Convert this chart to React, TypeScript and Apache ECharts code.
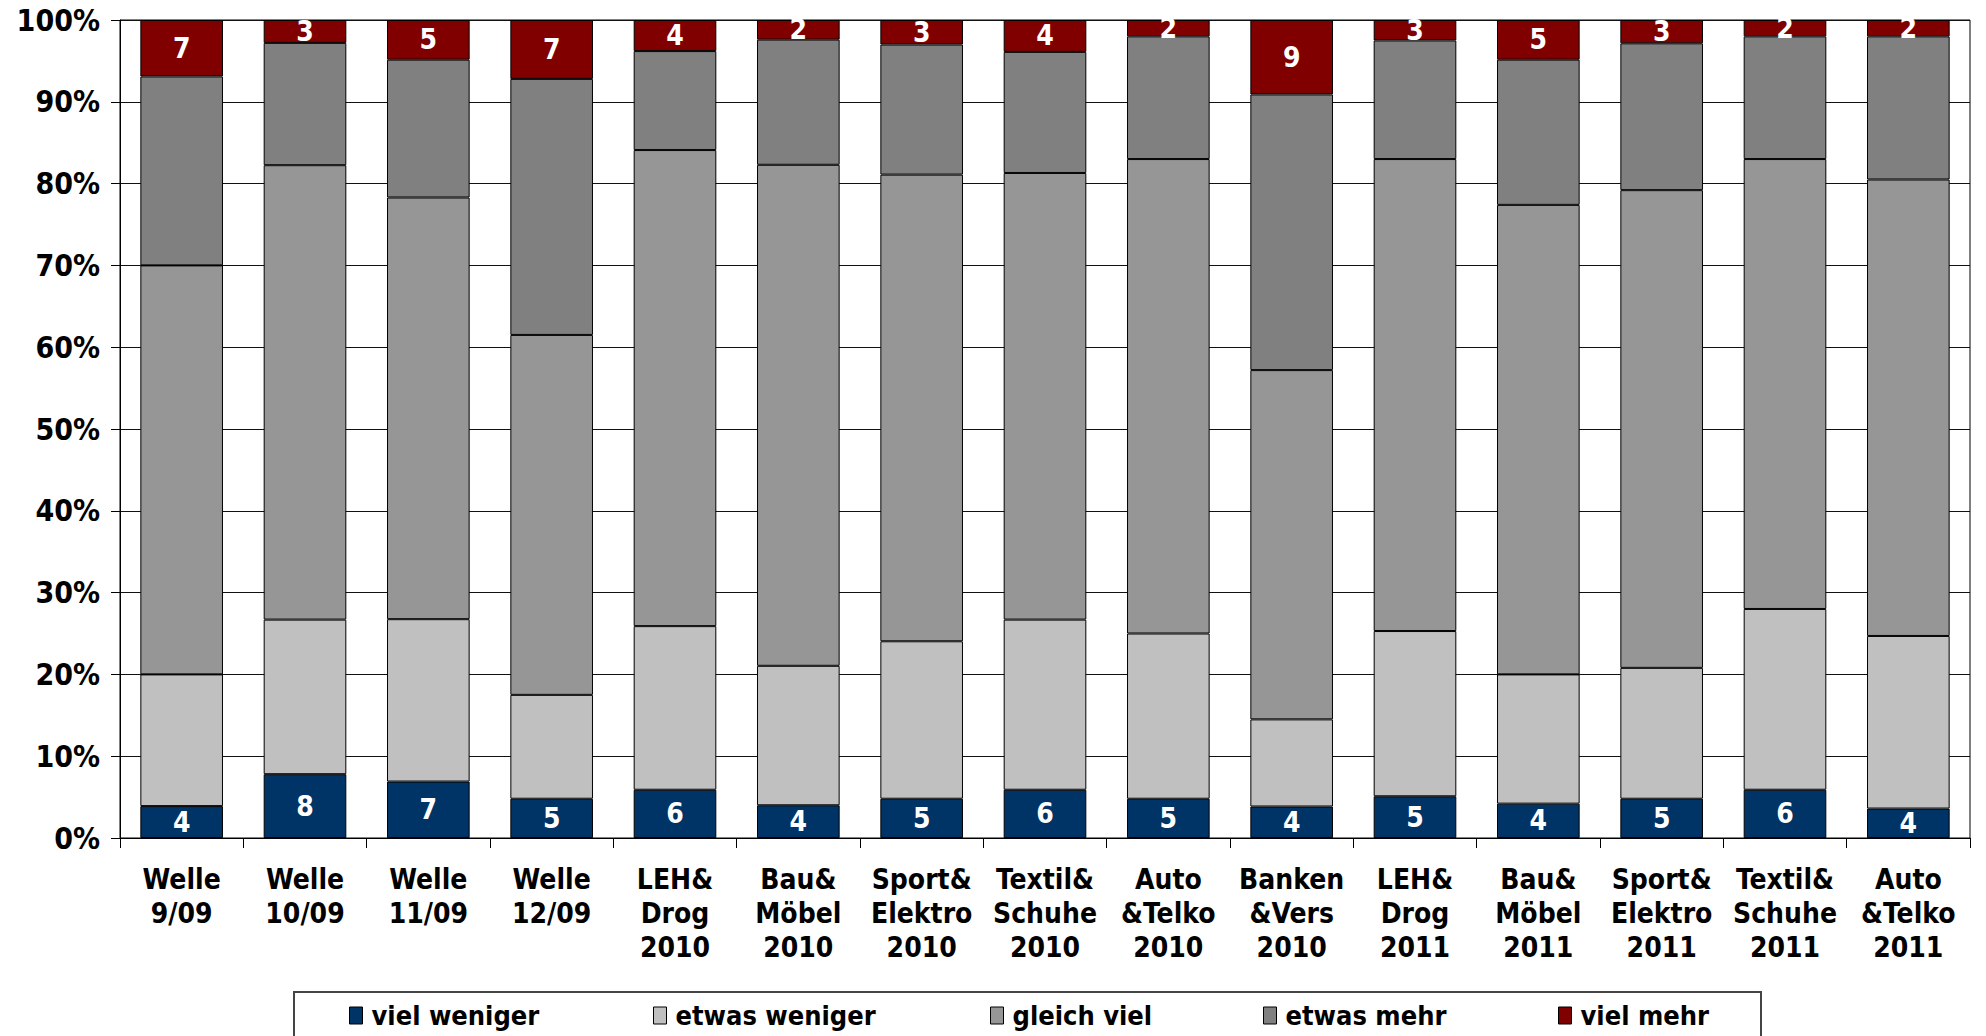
import React, { useEffect, useRef } from "react";
import * as echarts from "echarts";

const categories = [
  "Welle\n9/09", "Welle\n10/09", "Welle\n11/09", "Welle\n12/09",
  "LEH&\nDrog\n2010", "Bau&\nMöbel\n2010", "Sport&\nElektro\n2010", "Textil&\nSchuhe\n2010",
  "Auto\n&Telko\n2010", "Banken\n&Vers\n2010", "LEH&\nDrog\n2011", "Bau&\nMöbel\n2011",
  "Sport&\nElektro\n2011", "Textil&\nSchuhe\n2011", "Auto\n&Telko\n2011",
];

const vielWeniger = [3.9, 7.8, 6.9, 4.8, 5.9, 4.0, 4.8, 5.9, 4.8, 3.85, 5.1, 4.2, 4.8, 5.9, 3.6];
const etwasWeniger = [16.1, 18.9, 19.85, 12.7, 20.0, 17.05, 19.25, 20.8, 20.2, 10.65, 20.2, 15.8, 16.0, 22.1, 21.1];
const gleichViel = [50.0, 55.55, 51.55, 44.0, 58.2, 61.25, 57.05, 54.6, 58.0, 42.7, 57.7, 57.4, 58.4, 55.0, 55.8];
const etwasMehr = [23.1, 14.95, 16.85, 31.3, 12.1, 15.3, 15.9, 14.8, 15.0, 33.7, 14.5, 17.75, 17.95, 15.0, 17.5];
const vielMehr = [6.9, 2.8, 4.85, 7.2, 3.8, 2.4, 3.0, 3.9, 2.0, 9.1, 2.5, 4.85, 2.85, 2.0, 2.0];

const seriesNames = ["viel weniger", "etwas weniger", "gleich viel", "etwas mehr", "viel mehr"];
const seriesColors = ["#003366", "#C0C0C0", "#969696", "#808080", "#800000"];
const seriesData = [vielWeniger, etwasWeniger, gleichViel, etwasMehr, vielMehr];
const labelled = [true, false, false, false, true];

const FONT = "'DejaVu Sans Condensed', 'DejaVu Sans', sans-serif";

export default function App() {
  const ref = useRef<HTMLDivElement>(null);
  useEffect(() => {
    if (!ref.current) return;
    const chart = echarts.init(ref.current, undefined, { renderer: "svg" });
    const legendLefts = [349, 653, 990, 1263, 1558];
    chart.setOption({
      animation: false,
      backgroundColor: "#ffffff",
      textStyle: { fontFamily: FONT },
      grid: {
        left: 120, right: 16, top: 20, bottom: 198,
        show: true, borderColor: "#000", borderWidth: 1,
      },
      xAxis: {
        type: "category",
        data: categories,
        axisLine: { lineStyle: { color: "#000", width: 1 } },
        axisTick: { show: true, length: 10, lineStyle: { color: "#000" } },
        axisLabel: {
          interval: 0, margin: 24, color: "#000", fontFamily: FONT,
          fontWeight: "bold", fontSize: 28, lineHeight: 34,
        },
      },
      yAxis: {
        type: "value",
        min: 0, max: 100, interval: 10,
        axisLine: { show: true, lineStyle: { color: "#000", width: 1 } },
        axisTick: { show: true, length: 9, lineStyle: { color: "#000" } },
        splitLine: { show: true, lineStyle: { color: "#111", width: 1 } },
        axisLabel: {
          formatter: "{value}%", color: "#000", fontFamily: FONT,
          fontWeight: "bold", fontSize: 30, margin: 20,
        },
      },
      legend: seriesNames.map((n, i) => ({
        data: [n],
        left: legendLefts[i],
        top: 1002,
        icon: "rect",
        itemWidth: 13,
        itemHeight: 17,
        itemGap: 6,
        padding: 0,
        textStyle: {
          fontFamily: FONT, fontWeight: "bold", fontSize: 27, color: "#000",
          padding: [0, 0, 0, 4],
        },
        itemStyle: { borderColor: "#000", borderWidth: 1 },
      })),
      graphic: [
        {
          type: "rect",
          shape: { x: 294, y: 992, width: 1467, height: 80 },
          style: { fill: "none", stroke: "#444", lineWidth: 2 },
          silent: true,
        },
      ],
      series: seriesNames.map((n, i) => ({
        name: n,
        type: "bar",
        stack: "total",
        barCategoryGap: "33%",
        data: seriesData[i],
        itemStyle: { color: seriesColors[i], borderColor: "#000", borderWidth: 1 },
        label: {
          show: labelled[i],
          position: "inside",
          color: "#fff",
          fontFamily: FONT,
          fontWeight: "bold",
          fontSize: 28,
          formatter: (p: any) => String(Math.round(p.value)),
        },
      })),
    });
    return () => chart.dispose();
  }, []);
  return (
    <div
      ref={ref}
      style={{ position: "fixed", left: 0, top: 0, width: 1986, height: 1036 }}
    />
  );
}
